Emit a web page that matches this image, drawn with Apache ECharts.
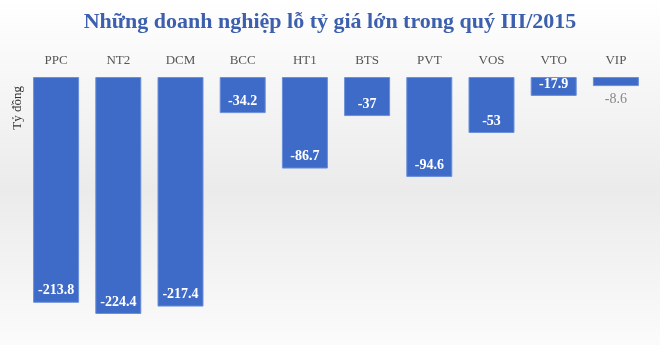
<!DOCTYPE html>
<html><head><meta charset="utf-8">
<script src="https://cdn.jsdelivr.net/npm/echarts@6/dist/echarts.min.js"></script>
<style>html,body{margin:0;padding:0;}#c{width:660px;height:345px;}</style>
</head><body><div id="c"></div>
<script>
const categories = ['PPC','NT2','DCM','BCC','HT1','BTS','PVT','VOS','VTO','VIP'];
const values = [-213.8,-224.4,-217.4,-34.2,-86.7,-37,-94.6,-53,-17.9,-8.6];
const titleText = 'Những doanh nghiệp lỗ tỷ giá lớn trong quý III/2015';
const unitText = 'Tỷ đồng';

const chart = echarts.init(document.getElementById('c'));
const serif = '"Liberation Serif","DejaVu Serif",serif';
chart.setOption({
  animation: false,
  backgroundColor: {type:'linear',x:0,y:0,x2:0,y2:1,colorStops:[
    {offset:0,color:'#ffffff'},{offset:0.55,color:'#ebebeb'},{offset:1,color:'#fbfbfb'}]},
  title: {text: titleText, left:'center', top:6,
    textStyle:{fontFamily:serif, fontWeight:'bold', fontSize:22, color:'#3c5fae'}},
  graphic: [{type:'text', left:11, top:86, rotation:Math.PI/2,
    style:{text: unitText, font:'13px "Liberation Serif",serif', fill:'#333'}}],
  grid: {left:25, right:13, top:77, bottom:4},
  xAxis: {type:'category', data:categories, position:'top',
    axisLine:{show:false}, axisTick:{show:false},
    axisLabel:{color:'#555', fontFamily:serif, fontSize:13, margin:10}},
  yAxis: {type:'value', min:-250, max:0, show:false},
  series: [{type:'bar', data: values.map((v,i)=> i===values.length-1 ? {value:v,
        label:{position:'bottom', color:'#888', fontWeight:'normal', distance:6}} : v),
    barWidth:46,
    itemStyle:{color:'#3f6bc8', borderColor:'#6a8fdb', borderWidth:1},
    label:{show:true, position:'insideBottom', distance:5, color:'#fff', fontWeight:'bold',
      fontFamily:serif, fontSize:14}}]
});
</script></body></html>
